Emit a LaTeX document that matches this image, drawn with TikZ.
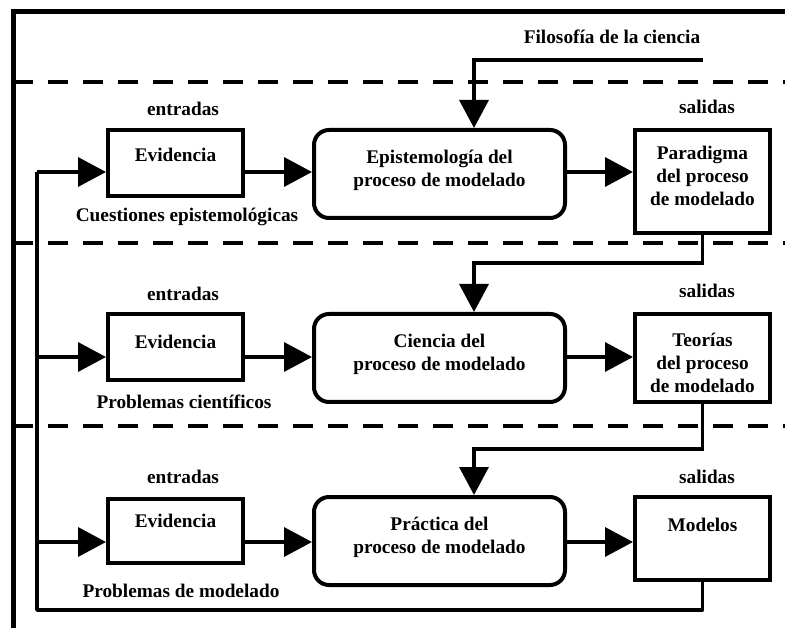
\documentclass[tikz,border=0pt]{standalone}
\usepackage{fontspec}
\setmainfont{Liberation Serif}
\usetikzlibrary{arrows.meta}
\begin{document}
\begin{tikzpicture}[x=1pt,y=-1pt,
  txt/.style={font=\fontsize{19.3}{23}\selectfont\bfseries, inner sep=0pt, align=center},
  sqbox/.style={draw, line width=4pt, inner sep=0pt},
  rbox/.style={draw, line width=4pt, rounded corners=15pt, inner sep=0pt},
  conn/.style={line width=3.5pt},
  arr/.style={line width=3.5pt, -{Triangle[length=28pt,width=29pt]}},
  sep/.style={line width=4pt, dash pattern=on 20pt off 15pt},
  frame/.style={line width=5pt}]
\useasboundingbox (0,0) rectangle (785,628);
% frame
\draw[frame] (13,628) -- (13,12) -- (785,12);
% dashed separators
\draw[sep] (13,82) -- (785,82);
\draw[sep] (13,243) -- (785,243);
\draw[sep] (13,426) -- (785,426);
% boxes
\node[sqbox, minimum width=135pt, minimum height=66pt] (e1) at (175.5,163) {};
\node[sqbox, minimum width=135pt, minimum height=66pt] (e2) at (175.5,347) {};
\node[sqbox, minimum width=135pt, minimum height=64pt] (e3) at (175.5,531) {};
\node[rbox, minimum width=251pt, minimum height=88pt] (ep) at (439.5,174) {};
\node[rbox, minimum width=251pt, minimum height=88pt] (ci) at (439.5,358) {};
\node[rbox, minimum width=251pt, minimum height=88pt] (pr) at (439.5,541) {};
\node[sqbox, minimum width=135pt, minimum height=103pt] (pa) at (702.5,181.5) {};
\node[sqbox, minimum width=135pt, minimum height=88pt] (te) at (702.5,358) {};
\node[sqbox, minimum width=135pt, minimum height=83pt] (mo) at (702.5,538.5) {};
% box texts
\node[txt] (t1) at (175.5,155) {Evidencia};
\node[txt] (t2) at (175.5,342) {Evidencia};
\node[txt] (t3) at (175.5,521) {Evidencia};
\node[txt] (t4) at (439.5,170) {Epistemología del\\proceso de modelado};
\node[txt] (t5) at (439.5,354) {Ciencia del\\proceso de modelado};
\node[txt] (t6) at (439.5,537) {Práctica del\\proceso de modelado};
\node[txt] (t7) at (702.5,176) {Paradigma\\del proceso\\de modelado};
\node[txt] (t8) at (702.5,363) {Teorías\\del proceso\\de modelado};
\node[txt] (t9) at (702.5,525) {Modelos};
% labels
\node[txt] (l1) at (183,109) {entradas};
\node[txt] (l2) at (183,294) {entradas};
\node[txt] (l3) at (183,477) {entradas};
\node[txt] (l4) at (707,107) {salidas};
\node[txt] (l5) at (707,291) {salidas};
\node[txt] (l6) at (707,477) {salidas};
\node[txt] (l7) at (187,217) {Cuestiones epistemológicas};
\node[txt] (l8) at (184,402) {Problemas científicos};
\node[txt] (l9) at (181,591) {Problemas de modelado};
\node[txt] (l10) at (612,37) {Filosofía de la ciencia};
% reference rows
\coordinate (r1) at (0,172);
\coordinate (r2) at (0,357);
\coordinate (r3) at (0,542);
\coordinate (f0) at (703,60);
\coordinate (f1) at (474,60);
\coordinate (k1) at (474,263);
\coordinate (k2) at (474,449);
\coordinate (lp) at (37,610);
% horizontal flow
\draw[arr] (e1.east |- r1) -- (ep.west |- r1);
\draw[arr] (ep.east |- r1) -- (pa.west |- r1);
\draw[arr] (e2.east |- r2) -- (ci.west |- r2);
\draw[arr] (ci.east |- r2) -- (te.west |- r2);
\draw[arr] (e3.east |- r3) -- (pr.west |- r3);
\draw[arr] (pr.east |- r3) -- (mo.west |- r3);
% vertical flow
\draw[arr] (f0) -- (f1) -- (f1 |- ep.north);
\draw[arr] (pa.south) |- (k1) -- (k1 |- ci.north);
\draw[arr] (te.south) |- (k2) -- (k2 |- pr.north);
% feedback loop
\draw[conn, line join=round] (mo.south) |- (lp) -- (lp |- r1);
\draw[arr] (lp |- r1) -- (e1.west |- r1);
\draw[arr] (lp |- r2) -- (e2.west |- r2);
\draw[arr] (lp |- r3) -- (e3.west |- r3);
\end{tikzpicture}
\end{document}
